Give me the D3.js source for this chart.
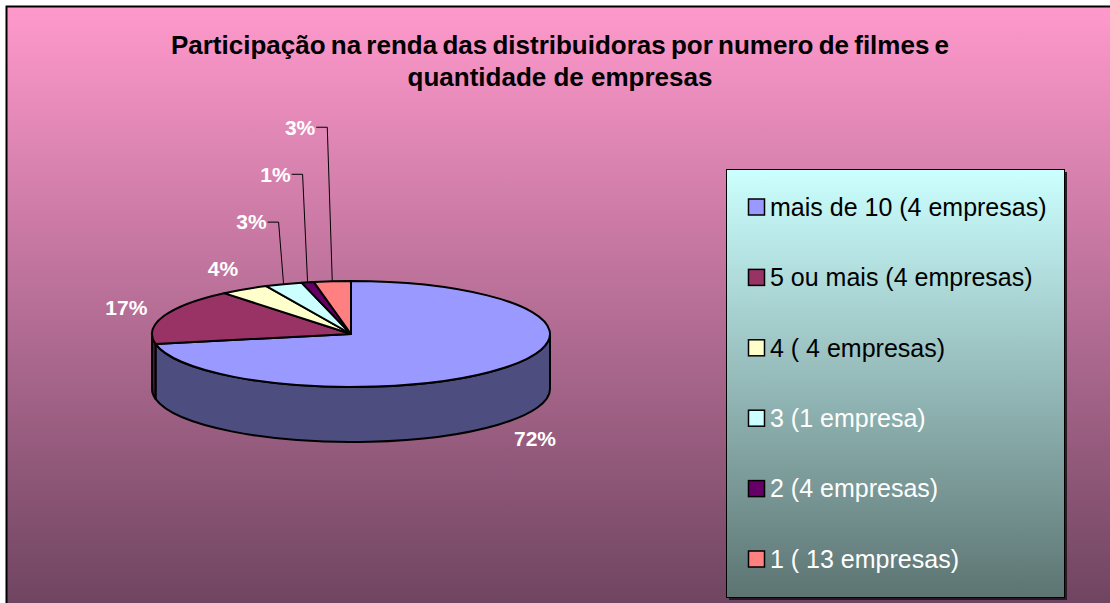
<!DOCTYPE html>
<html>
<head>
<meta charset="utf-8">
<script src="https://cdnjs.cloudflare.com/ajax/libs/d3/7.8.5/d3.min.js"></script>
<style>
  html, body { margin: 0; padding: 0; background: #fff; }
  svg text { font-family: "Liberation Sans", Arial, sans-serif; }
</style>
</head>
<body>
<div id="chart"></div>
<script>
// data
const categories = [
  "mais de 10 (4 empresas)",
  "5 ou mais (4 empresas)",
  "4 ( 4 empresas)",
  "3 (1 empresa)",
  "2 (4 empresas)",
  "1 ( 13 empresas)"
];
const shares = [72, 17, 4, 3, 1, 3];
const percentLabels = ["72%", "17%", "4%", "3%", "1%", "3%"];
const titleLines = [
  "Participação na renda das distribuidoras por numero de filmes e",
  "quantidade de empresas"
];

const topColors = ["#9999ff", "#993366", "#ffffcc", "#ccffff", "#660066", "#ff8080"];
const legendTextColors = ["#000", "#000", "#000", "#fff", "#fff", "#fff"];

const width = 1110, height = 603;
const cx = 351, cy = 334, rx = 199, ry = 53, depth = 55;

const svg = d3.select("#chart").append("svg")
  .attr("width", width)
  .attr("height", height);

const defs = svg.append("defs");
const bg = defs.append("linearGradient").attr("id", "bg")
  .attr("x1", 0).attr("y1", 0).attr("x2", 0).attr("y2", 1);
bg.append("stop").attr("offset", "0%").attr("stop-color", "#ff99cc");
bg.append("stop").attr("offset", "100%").attr("stop-color", "#6e4460");

const lg = defs.append("linearGradient").attr("id", "lg")
  .attr("x1", 0).attr("y1", 0).attr("x2", 0).attr("y2", 1);
lg.append("stop").attr("offset", "0%").attr("stop-color", "#ccffff");
lg.append("stop").attr("offset", "100%").attr("stop-color", "#5c7472");

// chart area
svg.append("rect")
  .attr("x", 6.5).attr("y", 6.5)
  .attr("width", width).attr("height", height)
  .attr("fill", "url(#bg)")
  .attr("stroke", "#000")
  .attr("stroke-width", 2);

// title
svg.append("g").selectAll("text")
  .data(titleLines)
  .enter().append("text")
  .attr("x", 560)
  .attr("y", (d, i) => 54 + i * 32)
  .attr("text-anchor", "middle")
  .attr("font-size", 26)
  .attr("font-weight", "bold")
  .attr("word-spacing", (d, i) => i == 0 ? -2 : 0)
  .attr("fill", "#000")
  .text(d => d);

// pie
const color = d3.scaleOrdinal().domain(categories).range(topColors);
const pie = d3.pie().sort(null).value(d => d.value);
const arcs = pie(categories.map((c, i) => ({ name: c, value: shares[i], label: percentLabels[i] })));

function pt(a, dy) {
  return [cx + rx * Math.sin(a), cy - ry * Math.cos(a) + (dy || 0)];
}

function sideColor(c) {
  const rgb = d3.rgb(c);
  return d3.rgb(rgb.r * 0.5, rgb.g * 0.5, rgb.b * 0.5);
}

// sides (front half only: angles between PI/2 and 3PI/2)
const sideG = svg.append("g");
arcs.forEach(d => {
  const s = Math.max(d.startAngle, Math.PI / 2);
  const e = Math.min(d.endAngle, Math.PI * 3 / 2);
  if (e <= s) return;
  const p0 = pt(s), p1 = pt(e), p2 = pt(e, depth), p3 = pt(s, depth);
  const path = `M${p0}A${rx},${ry} 0 0 1 ${p1}L${p2}A${rx},${ry} 0 0 0 ${p3}Z`;
  sideG.append("path")
    .attr("d", path)
    .attr("fill", sideColor(color(d.data.name)))
    .attr("stroke", "#000")
    .attr("stroke-width", 2)
    .attr("stroke-linejoin", "round");
});

// tops
svg.append("g").selectAll("path")
  .data(arcs)
  .enter().append("path")
  .attr("d", d => {
    const p0 = pt(d.startAngle), p1 = pt(d.endAngle);
    const large = d.endAngle - d.startAngle > Math.PI ? 1 : 0;
    return `M${cx},${cy}L${p0}A${rx},${ry} 0 ${large} 1 ${p1}Z`;
  })
  .attr("fill", d => color(d.data.name))
  .attr("stroke", "#000")
  .attr("stroke-width", 2)
  .attr("stroke-linejoin", "round");

// labels
const labelG = svg.append("g");
let rise = 0;
arcs.forEach((d, i) => {
  const mid = (d.startAngle + d.endAngle) / 2;
  const small = d.endAngle - d.startAngle < 0.2 && mid > Math.PI * 1.75;
  if (!small) {
    const front = Math.cos(mid) < 0 ? depth : 0;
    const x = cx + rx * 1.2 * Math.sin(mid);
    const y = cy - (ry * 1.2 + 14) * Math.cos(mid) + front;
    labelG.append("text")
      .attr("x", x).attr("y", y).attr("dy", "0.35em")
      .attr("text-anchor", "middle")
      .attr("font-size", 21).attr("font-weight", "bold")
      .attr("fill", "#fff")
      .text(d.data.label);
  } else {
    rise += 1;
    const [ax, ay] = pt(mid);
    const ly = ay - 16 - rise * 46;
    const ex = ax - 5;
    labelG.append("path")
      .attr("d", `M${ex - 11},${ly}H${ex}L${ax},${ay}`)
      .attr("fill", "none")
      .attr("stroke", "#000")
      .attr("stroke-width", 1);
    labelG.append("text")
      .attr("x", ex - 12).attr("y", ly).attr("dy", "0.35em")
      .attr("text-anchor", "end")
      .attr("font-size", 21).attr("font-weight", "bold")
      .attr("fill", "#fff")
      .text(d.data.label);
  }
});

// legend
const legend = svg.append("g").attr("transform", "translate(726,169)");
legend.append("rect")
  .attr("x", 3).attr("y", 3).attr("width", 338).attr("height", 428)
  .attr("fill", "#2a1a24");
legend.append("rect")
  .attr("x", 0.5).attr("y", 0.5).attr("width", 338).attr("height", 428)
  .attr("fill", "url(#lg)")
  .attr("stroke", "#000").attr("stroke-width", 1);

const item = legend.selectAll(".item")
  .data(categories)
  .enter().append("g")
  .attr("class", "item")
  .attr("transform", (d, i) => `translate(22,${38 + i * 70.4})`);
item.append("rect")
  .attr("x", 0.5).attr("y", -8)
  .attr("width", 16).attr("height", 16)
  .attr("fill", d => color(d))
  .attr("stroke", "#000").attr("stroke-width", 1.5);
item.append("text")
  .attr("x", 22).attr("dy", "0.35em")
  .attr("font-size", 25)
  .attr("fill", (d, i) => legendTextColors[i])
  .text(d => d);
</script>
</body>
</html>
